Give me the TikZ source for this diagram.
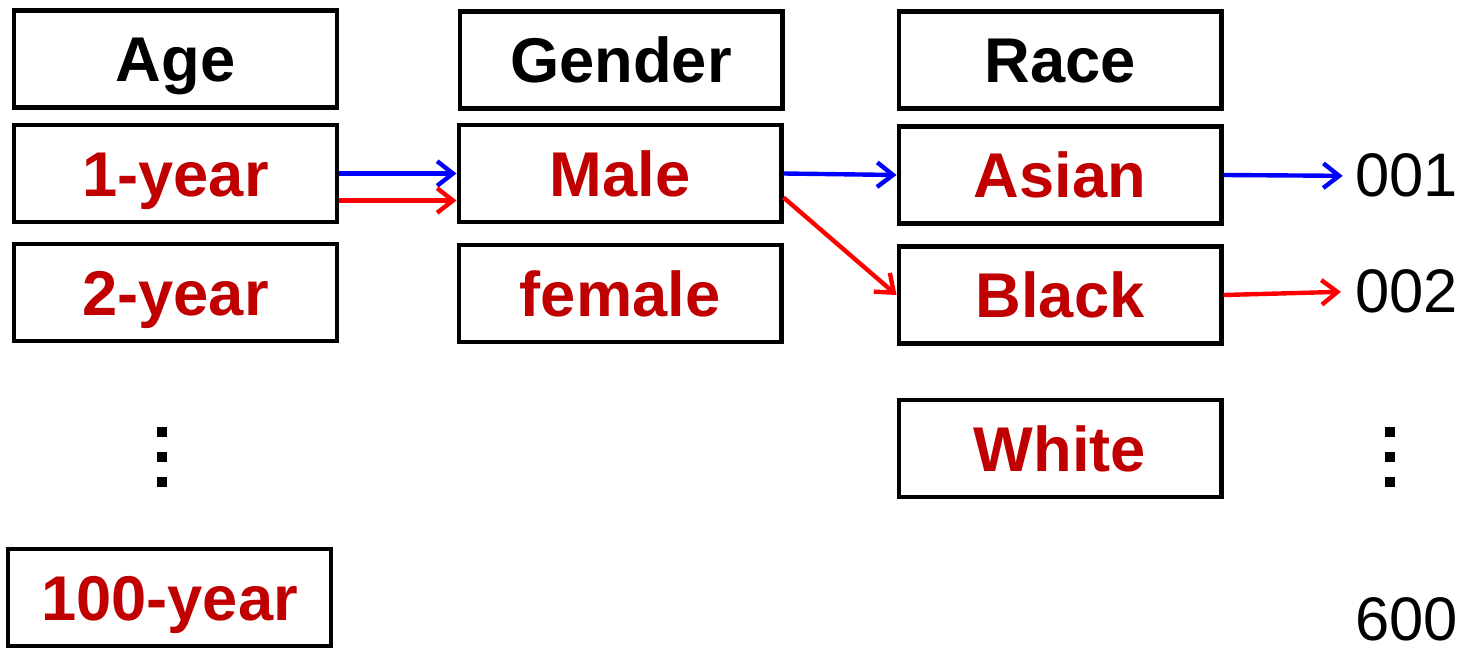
\documentclass[tikz,border=0pt]{standalone}
\usepackage{fontspec}
\setmainfont{Liberation Sans}
\usetikzlibrary{arrows.meta, positioning, calc}

\definecolor{darkred}{RGB}{192,0,0}

\begin{document}
\begin{tikzpicture}[
    x=0.02cm, y=-0.02cm,
    >={Straight Barb[length=9pt, width=14pt]},
    box/.style={draw, line width=2.3pt, minimum width=6.46cm, minimum height=1.94cm,
        inner sep=0pt, text height=25.8pt, text depth=0pt,
        font=\fontsize{36}{40}\selectfont\bfseries},
    head/.style={box, text=black},
    value/.style={box, text=darkred},
    code/.style={anchor=base west, inner sep=0pt, font=\fontsize{35}{40}\selectfont},
    bluearrow/.style={->, line width=2.5pt, draw=blue},
    redarrow/.style={->, line width=2.5pt, draw=red},
    dot/.style={fill=black}
]
\useasboundingbox (0,0) rectangle (1466,648);

% 1. Age column (Left)
\node[head] (Age) at (175.5,59) {Age};
\node[value] (Year1) at (175.5,173.5) {1-year};
\node[value] (Year2) at (175.5,292.5) {2-year};
\node[value] (Year100) at (169.5,597.5) {100-year};

% 2. Gender column (Middle)
\node[head] (Gender) at (621,60) {Gender};
\node[value] (Male) at (620,173.5) {Male};
\node[value] (Female) at (620,293.5) {female};

% 3. Race column (Right)
\node[head] (Race) at (1060,60) {Race};
\node[value] (Asian) at (1060,175) {Asian};
\node[value] (Black) at (1060,295) {Black};
\node[value] (White) at (1060,448.5) {White};

% Codes
\node[code] (C001) at (1355,197) {001};
\node[code] (C002) at (1355,313) {002};
\node[code] (C600) at (1355,640) {600};

% Vertical dots
\foreach \y in {432,457,482} {
    \fill[dot] (157,\y-5) rectangle (167,\y+5);
    \fill[dot] (1385,\y-5) rectangle (1395,\y+5);
}

% Arrows
\draw[bluearrow] (Year1.east) -- (Year1.east -| Male.west);
\draw[redarrow] ([yshift=-0.54cm]Year1.east) -- ([yshift=-0.54cm]Year1.east -| Male.west);

\draw[bluearrow] (Male.east) -- (Asian.west);
\draw[redarrow] ([yshift=-0.48cm]Male.east) -- (Black.west);

\draw[bluearrow] (Asian.east) -- ([xshift=-7pt]C001.west);
\draw[redarrow] (Black.east) -- ([xshift=-8pt]C002.west);

\end{tikzpicture}
\end{document}
